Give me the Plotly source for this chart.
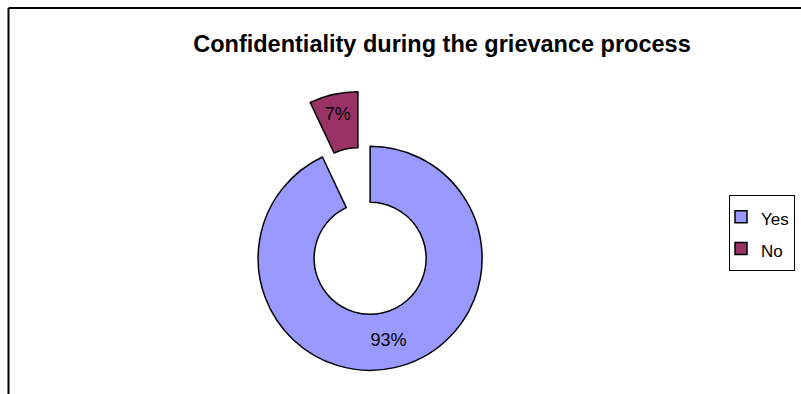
import plotly.graph_objects as go

# Survey answers and their shares
labels = ["Yes", "No"]
values = [93, 7]
colors = ["#9999FF", "#993366"]
title_text = "Confidentiality during the grievance process"

W, H = 801, 394

fig = go.Figure()
fig.add_trace(go.Pie(
    labels=[f"<span style='font-size:17px'>{l}</span>" for l in labels],
    values=values,
    hole=0.5,
    sort=False,
    direction="clockwise",
    rotation=0,
    pull=[0.25, 0.25],
    marker=dict(colors=colors, line=dict(color="black", width=1.5)),
    texttemplate="%{percent:.0%}",
    textposition="inside",
    insidetextorientation="horizontal",
    textfont=dict(family="Arial, Liberation Sans", size=18, color="black"),
    domain=dict(x=[224 / W, 504 / W], y=[1 - 371 / H, 1 - 91 / H]),
    hoverinfo="label+percent",
))

fig.update_layout(
    width=W, height=H,
    margin=dict(l=0, r=0, t=0, b=0),
    paper_bgcolor="white",
    plot_bgcolor="white",
    font=dict(family="Arial, Liberation Sans", color="black"),
    title=dict(
        text=f"<b>{title_text}</b>",
        x=442 / W, xanchor="center",
        y=1 - 44 / H, yanchor="middle",
        font=dict(size=23.5, color="black"),
    ),
    legend=dict(
        x=729 / W, xanchor="left",
        y=1 - 195 / H, yanchor="top",
        bordercolor="black", borderwidth=1,
        bgcolor="white",
        font=dict(size=22, color="black"),
        indentation=-9,
        itemclick=False,
    ),
    shapes=[
        dict(type="line", xref="paper", yref="paper",
             x0=8.5 / W, x1=1, y0=1 - 8 / H, y1=1 - 8 / H,
             line=dict(color="black", width=2)),
        dict(type="line", xref="paper", yref="paper",
             x0=8.5 / W, x1=8.5 / W, y0=0, y1=1 - 8 / H,
             line=dict(color="black", width=2)),
    ],
)

fig.write_html("out.html")
